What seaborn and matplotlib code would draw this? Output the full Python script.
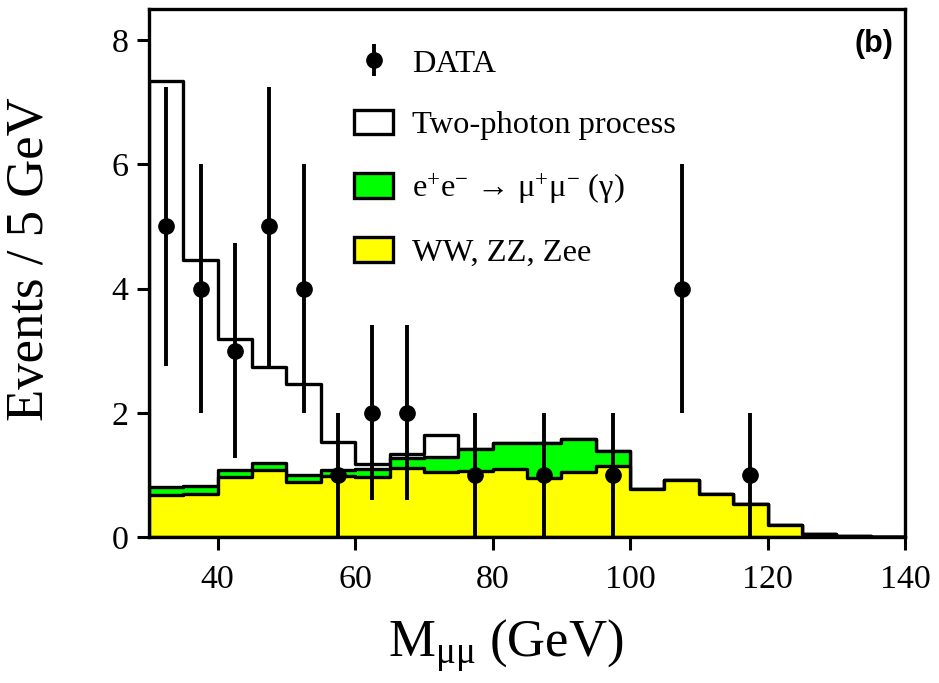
import numpy as np
import pandas as pd
import matplotlib.pyplot as plt
import matplotlib.patches as mpatches
import seaborn as sns

# 5 GeV bins from 30 to 140 GeV
bin_edges = [30, 35, 40, 45, 50, 55, 60, 65, 70, 75, 80, 85, 90, 95, 100,
             105, 110, 115, 120, 125, 130, 135, 140]

# background components per bin
ww_zz_zee = [0.68, 0.70, 0.97, 1.08, 0.89, 0.98, 0.97, 1.11, 1.04, 1.07, 1.10,
             0.95, 1.04, 1.14, 0.78, 0.92, 0.69, 0.53, 0.19, 0.05, 0.02, 0.0]
mumu = [0.12, 0.12, 0.11, 0.11, 0.11, 0.10, 0.12, 0.16, 0.25, 0.34, 0.42,
        0.57, 0.53, 0.25, 0.0, 0.0, 0.0, 0.0, 0.0, 0.0, 0.0, 0.0]
two_photon = [6.54, 3.64, 2.10, 1.54, 1.46, 0.45, 0.08, 0.07, 0.35, 0.0, 0.0,
              0.0, 0.0, 0.0, 0.0, 0.0, 0.0, 0.0, 0.0, 0.0, 0.0, 0.0]

# data points
data_x = [32.5, 37.5, 42.5, 47.5, 52.5, 57.5, 62.5, 67.5, 77.5, 87.5, 97.5, 107.5, 117.5]
data_y = [5, 4, 3, 5, 4, 1, 2, 2, 1, 1, 1, 4, 1]
data_err = [2.24, 2.0, 1.73, 2.24, 2.0, 1.0, 1.41, 1.41, 1.0, 1.0, 1.0, 2.0, 1.0]

sns.set_style("ticks")
plt.rcParams["font.family"] = ["Liberation Serif", "DejaVu Serif"]
plt.rcParams["mathtext.fontset"] = "custom"
plt.rcParams["mathtext.rm"] = "Liberation Serif"
plt.rcParams["mathtext.it"] = "Liberation Serif:italic"
for k in ["text.color", "axes.labelcolor", "xtick.color", "ytick.color"]:
    plt.rcParams[k] = "black"

edges = np.array(bin_edges, dtype=float)
hist = pd.DataFrame({"m": (edges[:-1] + edges[1:]) / 2})
hist["yellow"] = ww_zz_zee
hist["green"] = hist["yellow"] + np.array(mumu)
hist["total"] = hist["green"] + np.array(two_photon)

fig = plt.figure(figsize=(9.39, 6.83), dpi=100)
ax = fig.add_axes([149 / 939, 1 - 537 / 683, 756 / 939, 528 / 683])

lw = 2.4
for col, c in [("total", "white"), ("green", "#00ff00"), ("yellow", "#ffff00")]:
    sns.histplot(data=hist, x="m", weights=col, bins=bin_edges, element="step",
                 fill=True, color=c, edgecolor="black", linewidth=lw, alpha=1, ax=ax)

eb = ax.errorbar(data_x, data_y, yerr=data_err, fmt="o", color="black", ms=11,
                 elinewidth=2.8, capsize=0, zorder=5, label="DATA")

ax.set_xlim(30, 140)
ax.set_ylim(0, 8.5)
ax.set_xticks([40, 60, 80, 100, 120, 140])
ax.set_yticks([0, 2, 4, 6, 8])
ax.tick_params(direction="out", length=9, width=2.2, labelsize=24.5,
               top=False, right=False)
ax.tick_params(axis="x", pad=11)
ax.tick_params(axis="y", pad=6)
for s in ax.spines.values():
    s.set_linewidth(2.4)
    s.set_color("black")
    s.set_visible(True)

ax.set_xlabel(r"M$_{\mathrm{μμ}}$ (GeV)", fontsize=38)
ax.set_ylabel("Events / 5 GeV", fontsize=38)
ax.xaxis.set_label_coords(0.472, -0.152)
ax.yaxis.set_label_coords(-0.125, 0.527)

ax.text(0.984, 0.962, "(b)", transform=ax.transAxes, ha="right", va="top",
        fontsize=22, fontweight="bold", family="Liberation Sans")

handles = [
    eb,
    mpatches.Patch(facecolor="white", edgecolor="black", linewidth=lw),
    mpatches.Patch(facecolor="#00ff00", edgecolor="black", linewidth=lw),
    mpatches.Patch(facecolor="#ffff00", edgecolor="black", linewidth=lw),
]
labels = ["DATA", "Two-photon process",
          "e$^{+}$e$^{-}$ → μ$^{+}$μ$^{-}$ (γ)", "WW, ZZ, Zee"]
ax.legend(handles, labels, loc="upper left", bbox_to_anchor=(354 / 939, 1 - 48 / 683),
          bbox_transform=fig.transFigure, frameon=False, fontsize=23.4,
          handlelength=1.2, handleheight=0.8, handletextpad=0.6,
          labelspacing=0.95, borderpad=0, borderaxespad=0)

fig.savefig("out.png", dpi=100)
